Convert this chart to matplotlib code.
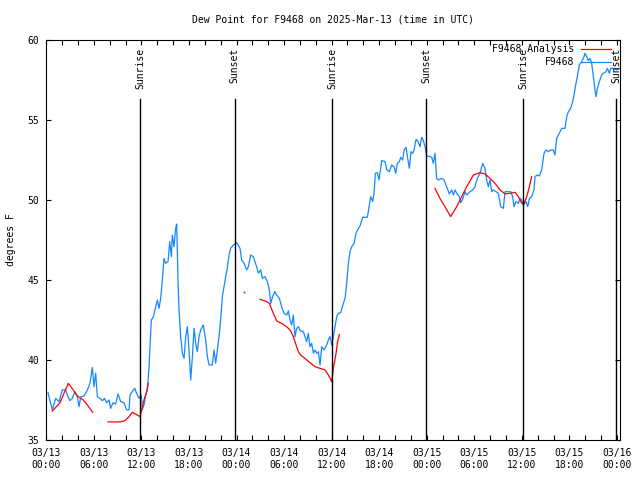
import numpy as np
import matplotlib
matplotlib.use('Agg')
import matplotlib.pyplot as plt

nan = np.nan

# station observations, hours since 2025-03-13 00:00 UTC
station_hours = [
    0.21, 0.76, 1.18, 1.60, 2.02, 2.44, 2.74, 2.99, 3.29, 3.58, 3.92, 4.13, 4.34, 4.76, 5.18, 5.51,
    5.81, 6.02, 6.23, 6.44, 6.78, 7.07, 7.36, 7.62, 7.91, 8.12, 8.42, 8.75, 9.05, 9.38, 9.80, 10.14,
    10.44, 10.56, 10.86, 11.15, 11.40, 11.70, 11.99, 12.12, 12.33, 12.54, 12.75, 12.96, 13.09, 13.25,
    13.51, 13.80, 14.01, 14.22, 14.43, 14.64, 14.85, 15.06, 15.36, 15.57, 15.78, 15.90, 16.11, 16.32,
    16.45, 16.62, 16.74, 16.95, 17.17, 17.38, 17.59, 17.80, 18.01, 18.22, 18.43, 18.64, 18.85, 19.06,
    19.27, 19.48, 19.81, 20.11, 20.32, 20.53, 20.95, 21.16, 21.37, 21.58, 21.79, 22.00, 22.21, 22.42,
    22.63, 22.84, 23.05, 23.26,
    23.60, 24.02, 24.44, 24.65, 24.95, 25.28, 25.49, 25.79, 26.12, 26.33, 26.54, 26.76, 27.05, 27.26,
    27.60, 27.89, 28.14, 28.31, 28.56, 28.82, 29.07, 29.40, 29.70, 29.99, 30.33, 30.54, 30.75, 30.96,
    31.17, 31.38, 31.59, 31.84, 32.01, 32.43, 32.64, 32.85, 33.06, 33.27, 33.48, 33.70, 33.91, 34.12,
    34.33, 34.54, 34.75, 35.04, 35.38, 35.59, 35.80, 36.01, 36.22, 36.43, 36.64, 36.85, 37.14, 37.48,
    37.69, 37.90, 38.11, 38.32, 38.53, 38.83, 39.08, 39.37, 39.58, 39.92, 40.51, 40.76, 40.93, 41.18,
    41.35, 41.52, 41.77, 41.98, 42.32, 42.74, 42.95, 43.29, 43.58, 43.87, 44.08, 44.29, 44.55, 44.71,
    44.97, 45.14, 45.39, 45.56, 45.81, 46.02, 46.23, 46.40, 46.65, 46.90, 47.15, 47.36, 47.57, 47.79,
    48.00, 48.42,
    48.62, 48.83, 49.04, 49.25, 49.46, 49.88, 50.18, 50.51, 50.85, 51.15, 51.36, 51.57, 51.78, 52.11,
    52.28, 52.53, 52.83, 53.04, 53.46, 53.80, 54.09, 54.38, 54.72, 55.06, 55.35, 55.56, 55.77, 55.98,
    56.19, 56.40, 56.74, 57.03, 57.33, 57.67, 57.88, 58.30, 58.59, 58.84, 59.01, 59.26, 59.56, 59.77,
    59.98, 60.19, 60.53, 60.74, 60.95, 61.24, 61.53, 61.66, 61.96, 62.21, 62.50, 62.80, 63.05, 63.34,
    63.64, 63.97, 64.18, 64.39, 64.73, 65.03, 65.45, 65.66, 65.87, 66.16, 66.41, 66.58, 66.83, 67.00,
    67.25, 67.55, 67.76, 67.97, 68.18, 68.39, 68.60, 68.81, 69.02, 69.23, 69.36, 69.53, 69.78, 70.07,
    70.28, 70.62, 70.79, 71.04, 71.21, 71.54, 71.97, 72.39,
]
station_dewpt = [
    37.96, 36.88, 37.60, 37.40, 38.13, 38.13, 37.70, 37.46, 37.60, 38.02, 37.70, 37.08, 37.70, 37.75, 38.13, 38.54,
    39.54, 38.33, 39.17, 37.70, 37.60, 37.46, 37.60, 37.33, 37.50, 36.98, 37.33, 37.25, 37.88, 37.40, 37.33, 36.88,
    36.88, 37.81, 38.02, 38.23, 37.92, 37.60, 37.81, 36.92, 37.19, 37.81, 38.13, 39.58, 40.83, 42.50,
    42.71, 43.33, 43.75, 43.23, 43.85, 45.00, 46.35, 46.04, 46.15, 47.40, 46.46, 47.81, 47.08, 48.23,
    48.50, 45.00, 43.23, 41.46, 40.42, 40.10, 41.46, 42.08, 40.63, 38.75, 40.21, 41.98, 41.04, 40.52,
    41.46, 41.88, 42.19, 41.25, 40.21, 39.69, 39.69, 40.63, 39.79, 40.63, 41.46, 42.50, 43.96, 44.58,
    45.21, 45.73, 46.56, 46.98,
    47.19, 47.33, 46.98, 46.25, 46.04, 45.63, 45.83, 46.56, 46.46, 46.15, 45.83, 45.42, 45.63, 45.10,
    45.21, 44.90, 44.38, 43.54, 43.96, 44.27, 44.06, 43.85, 43.33, 42.92, 42.81, 43.08, 42.50, 42.19,
    42.81, 41.46, 41.98, 42.08, 41.83, 41.77, 41.46, 41.15, 41.67, 40.83, 41.04, 40.42, 40.63, 40.42,
    40.52, 39.69, 40.83, 40.63, 40.94, 41.25, 41.46, 40.94, 41.46, 42.08, 42.71, 42.92, 42.96, 43.54,
    43.85, 44.79, 46.04, 46.77, 47.08, 47.29, 47.92, 48.23, 48.38, 48.92, 48.92, 49.69, 50.21, 49.90,
    50.42, 51.67, 51.71, 51.25, 52.46, 52.40, 51.88, 51.77, 52.19, 52.08, 51.67, 52.29, 52.40, 52.67,
    52.50, 53.13, 53.29, 52.71, 51.98, 53.02, 52.92, 53.13, 53.79, 53.65, 53.33, 53.92, 53.71, 53.33,
    52.75, 52.71,
    52.67, 52.29, 52.92, 51.35, 51.25, 51.35, 51.25, 50.83, 50.38, 50.63, 50.31, 50.63, 50.42, 50.21,
    49.83, 50.04, 50.52, 50.31, 50.52, 50.63, 50.83, 51.35, 51.67, 52.29, 51.98, 51.25, 50.83, 51.25,
    50.52, 50.63, 50.52, 50.42, 49.58, 49.48, 50.52, 50.52, 50.52, 50.21, 49.58, 49.90, 49.79, 50.10,
    50.00, 49.69, 49.90, 49.58, 50.10, 50.21, 50.63, 51.46, 51.56, 51.50, 51.88, 52.92, 53.13, 53.02,
    53.13, 53.13, 52.81, 53.85, 54.17, 54.48, 54.48, 55.21, 55.52, 55.73, 56.15, 56.56, 57.29, 57.71,
    58.44, 58.65, 58.85, 59.17, 58.96, 58.71, 58.85, 58.54, 57.71, 56.88, 56.46, 56.98, 57.40, 57.81,
    57.92, 58.02, 58.23, 57.92, 58.23, 58.23, 58.13, 58.23,
]

# analysis, nan marks the gaps
analysis_hours = [
    0.76, 1.73, 2.23, 2.78, 3.41, 3.92, 4.67, 5.18, 5.85, nan,
    7.79, 9.30, 9.93, 10.44, 10.86, 11.49, 11.82, 11.99, 12.33, 12.66, 12.87, nan,
    26.97, 27.81, 28.14, 28.56, 29.07, 29.70, 30.33, 30.83, 31.17, 31.51, 31.80, 32.10, 32.64, 33.27,
    33.91, 34.54, 35.17, 35.59, 36.01, 36.22, 36.56, 36.72, 36.98, nan,
    49.04, 49.67, 50.30, 51.02, 51.78, 52.41, 53.04, 53.88, 54.72, 55.35, 55.98, 56.61, 57.24, 57.88,
    58.51, 59.14, 59.56, 59.98, 60.27, 60.61, 60.95, 61.24,
]
analysis_dewpt = [
    36.81, 37.33, 37.92, 38.54, 38.13, 37.75, 37.50, 37.19, 36.73, nan,
    36.13, 36.13, 36.21, 36.46, 36.73, 36.56, 36.46, 36.77, 37.50, 38.02, 38.54, nan,
    43.79, 43.65, 43.54, 43.02, 42.44, 42.29, 42.08, 41.83, 41.46, 40.94, 40.52, 40.31, 40.10, 39.83,
    39.58, 39.48, 39.38, 39.06, 38.65, 39.48, 40.42, 41.04, 41.60, nan,
    50.73, 50.10, 49.58, 48.96, 49.58, 50.21, 50.83, 51.56, 51.71, 51.63, 51.35, 51.04, 50.63, 50.38,
    50.42, 50.48, 50.21, 49.79, 49.75, 50.21, 50.83, 51.46,
]
# single analysis value with no neighbours
analysis_lone_hours = [24.95]
analysis_lone_dewpt = [44.23]

sun_hours = [11.85, 23.75, 36.1, 47.95, 60.19, 71.92]
sun_labels = ['Sunrise', 'Sunset', 'Sunrise', 'Sunset', 'Sunrise', 'Sunset']

xtick_hours = [0, 6, 12, 18, 24, 30, 36, 42, 48, 54, 60, 66, 72]
xtick_labels = ['03/13\n00:00', '03/13\n06:00', '03/13\n12:00', '03/13\n18:00',
                '03/14\n00:00', '03/14\n06:00', '03/14\n12:00', '03/14\n18:00',
                '03/15\n00:00', '03/15\n06:00', '03/15\n12:00', '03/15\n18:00',
                '03/16\n00:00']

BLUE = '#1488ff'
RED = '#ff0000'
FS = 7
LW = 0.9

plt.rcParams['font.family'] = ['DejaVu Sans Mono']
plt.rcParams['font.size'] = FS

fig = plt.figure(figsize=(6.4, 4.8), dpi=100)
ax = fig.add_axes([46.3 / 640, 40 / 480, (619.5 - 46.3) / 640, 400 / 480])

ax.plot(station_hours, station_dewpt, color=BLUE, lw=LW)
ax.plot(analysis_hours, analysis_dewpt, color=RED, lw=LW)
ax.plot(analysis_lone_hours, analysis_lone_dewpt, 's', color=RED, ms=1.2, mew=0)

# sunrise / sunset markers
for h, lab in zip(sun_hours, sun_labels):
    ax.plot([h, h], [35, 56.3], color='black', lw=1.0)
    ax.text(h, 59.5, lab, rotation=90, ha='center', va='top', fontsize=FS)

ax.set_xlim(0, 72.32)
ax.set_ylim(35, 60)
ax.set_xticks(xtick_hours)
ax.set_xticklabels(xtick_labels)
ax.set_xticks(np.arange(0, 73, 2), minor=True)
ax.set_yticks([35, 40, 45, 50, 55, 60])
ax.tick_params(which='both', direction='in', top=True, right=True, length=3.5, width=0.8)
ax.tick_params(axis='x', pad=6)
ax.tick_params(axis='y', pad=5)
for s in ax.spines.values():
    s.set_linewidth(0.8)

# legend drawn by hand so the texts are right aligned like gnuplot
leg_rows = [('F9468 Analysis', RED, 0.9775), ('F9468', BLUE, 0.945)]
for lab, col, yy in leg_rows:
    ax.text(0.9214, yy, lab, transform=ax.transAxes, ha='right', va='center', fontsize=FS)
    ax.plot([0.9337, 0.9843], [yy, yy], color=col, lw=LW, transform=ax.transAxes, clip_on=False)

fig.text(0.52, 1 - 20 / 480, 'Dew Point for F9468 on 2025-Mar-13 (time in UTC)',
         ha='center', va='center', fontsize=FS)
fig.text(11 / 640, 0.5, 'degrees F', rotation=90, ha='center', va='center', fontsize=FS)

fig.savefig('out.png', dpi=100)
